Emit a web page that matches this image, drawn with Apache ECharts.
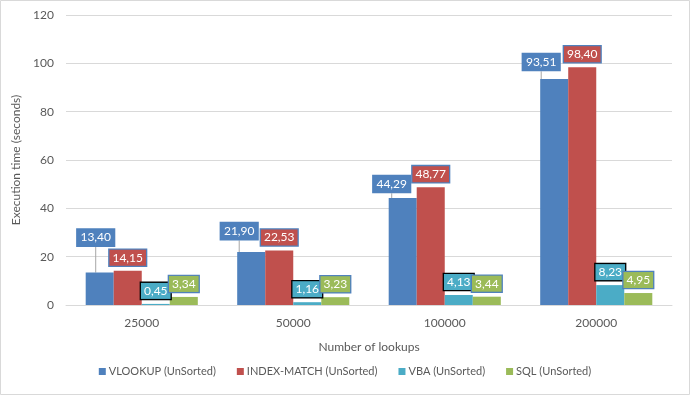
<!DOCTYPE html>
<html><head><meta charset="utf-8">
<script src="https://cdn.jsdelivr.net/npm/echarts@6/dist/echarts.min.js"></script>
<style>html,body{margin:0;padding:0;background:#fff}#c{width:690px;height:395px}</style>
</head><body><div id="c"></div>
<script>
const categories = ['25000', '50000', '100000', '200000'];
const vlookup = [13.40, 21.90, 44.29, 93.51];
const indexMatch = [14.15, 22.53, 48.77, 98.40];
const vba = [0.45, 1.16, 4.13, 8.23];
const sql = [3.34, 3.23, 3.44, 4.95];
const seriesNames = ['VLOOKUP (UnSorted)', 'INDEX-MATCH (UnSorted)', 'VBA (UnSorted)', 'SQL (UnSorted)'];
// manual label shifts for the VLOOKUP labels (as placed in the original)
const vlookupLabelShift = [[-4, -22], [-12, -8], [-11, -1], [-13, -4]];

const FONT = 'Lato';
const fmt = p => p.value.toFixed(2).replace('.', ',');
function mkLabel(bg, border) {
  return {
    show: true, position: 'top', distance: 5, formatter: fmt,
    color: '#fff', fontFamily: FONT, fontSize: 12,
    backgroundColor: bg, borderColor: border, borderWidth: 1.3,
    padding: [2, 3, 2, 3]
  };
}
const chart = echarts.init(document.getElementById('c'));
chart.setOption({
  animation: false,
  textStyle: { fontFamily: FONT },
  graphic: [{ type: 'rect', shape: { x: 0.5, y: 0.5, width: 689, height: 394 },
    style: { fill: 'none', stroke: '#d9d9d9', lineWidth: 1 }, silent: true, z: -1 }],
  grid: { left: 66, right: 18, top: 15, bottom: 90 },
  legend: {
    bottom: 13, itemWidth: 7, itemHeight: 7, itemGap: 21, icon: 'rect',
    textStyle: { color: '#595959', fontSize: 11, fontFamily: FONT, padding: [0, 0, 0, -2] },
    data: seriesNames
  },
  xAxis: {
    type: 'category', data: categories,
    name: 'Number of lookups', nameLocation: 'middle', nameGap: 36,
    nameTextStyle: { color: '#595959', fontSize: 12 },
    axisLine: { lineStyle: { color: '#d9d9d9' } },
    axisTick: { show: false },
    axisLabel: { color: '#595959', fontSize: 12, margin: 12 }
  },
  yAxis: {
    type: 'value', min: 0, max: 120, interval: 20,
    name: 'Execution time (seconds)', nameLocation: 'middle', nameGap: 39,
    nameTextStyle: { color: '#595959', fontSize: 12 },
    axisLine: { show: false }, axisTick: { show: false },
    axisLabel: { color: '#595959', fontSize: 12, margin: 12 },
    splitLine: { lineStyle: { color: '#d9d9d9' } }
  },
  series: [
    { name: seriesNames[0], type: 'bar', data: vlookup, barGap: '0%', barCategoryGap: '26%',
      itemStyle: { color: '#4f81bd' }, label: mkLabel('#4f81bd', '#4f81bd'),
      labelLine: { show: true, lineStyle: { color: '#a6a6a6', width: 1 } },
      labelLayout: p => ({ dx: vlookupLabelShift[p.dataIndex][0], dy: vlookupLabelShift[p.dataIndex][1] }) },
    { name: seriesNames[1], type: 'bar', data: indexMatch,
      itemStyle: { color: '#c0504d' }, label: mkLabel('#c0504d', '#4f81bd') },
    { name: seriesNames[2], type: 'bar', data: vba,
      itemStyle: { color: '#4bacc6' }, label: mkLabel('#4bacc6', '#000') },
    { name: seriesNames[3], type: 'bar', data: sql,
      itemStyle: { color: '#9bbb59' }, label: mkLabel('#9bbb59', '#4f81bd') }
  ]
});
</script></body></html>
